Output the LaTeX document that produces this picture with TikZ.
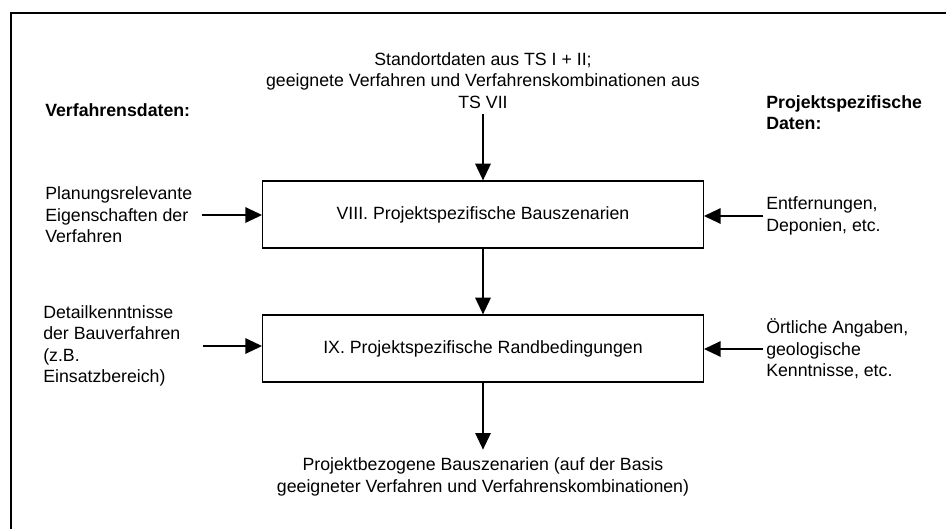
\documentclass[tikz,border=0pt]{standalone}
\usepackage{fontspec}
\setmainfont{Liberation Sans}
\usetikzlibrary{arrows.meta}
\begin{document}
\begin{tikzpicture}[x=0.75pt,y=-0.75pt,
  every node/.style={font=\fontsize{13.3pt}{16.2pt}\selectfont},
  procbox/.style={draw, line width=0.9pt, minimum width=330.5pt, minimum height=50.25pt, inner sep=0pt},
  txt/.style={align=left, inner sep=0pt, anchor=west},
  ctxt/.style={align=center, inner sep=0pt},
  head/.style={align=left, inner sep=0pt, anchor=west, font=\fontsize{13.3pt}{16.2pt}\selectfont\bfseries},
  flow/.style={line width=1.4pt, -{Triangle[length=12.5pt,width=11.5pt]}},
  frame/.style={line width=1pt}
]
\useasboundingbox (0,0) rectangle (946,529);
% outer frame
\coordinate (fb) at (11,529);
\coordinate (fc) at (11,13);
\coordinate (fr) at (946,13);
\draw[frame] (fb) -- (fc) -- (fr);

% boxes
\node[procbox] (b1) at (483,214.5) {VIII.\ Projektspezifische Bauszenarien};
\node[procbox] (b2) at (483,348.5) {IX.\ Projektspezifische Randbedingungen};

% top text
\node[ctxt, inner ysep=4pt] (top) at (483,80.5) {Standortdaten aus TS I + II;\\geeignete Verfahren und Verfahrenskombinationen aus\\TS VII};

% headings
\node[head] (hl) at (45,110) {Verfahrensdaten:};
\node[head] (hr) at (766,112.5) {Projektspezifische\\Daten:};

% side texts
\node[txt] (l1) at (45,215) {Planungsrelevante\\Eigenschaften der\\Verfahren};
\node[txt] (l2) at (43,346) {Detailkenntnisse\\der Bauverfahren\\(z.B.\\Einsatzbereich)};
\node[txt] (r1) at (766,216) {Entfernungen,\\Deponien, etc.};
\node[txt] (r2) at (766,349) {Örtliche Angaben,\\geologische\\Kenntnisse, etc.};

% bottom text
\node[ctxt, inner ysep=6pt] (bot) at (483,477) {Projektbezogene Bauszenarien (auf der Basis\\geeigneter Verfahren und Verfahrenskombinationen)};

% connectors
\coordinate (la1) at (202,215);
\coordinate (la2) at (203,346);
\draw[flow] (top.south) -- (b1.north);
\draw[flow] (b1.south) -- (b2.north);
\draw[flow] (b2.south) -- (bot.north);
\draw[flow] (la1) -- (la1 -| b1.west);
\draw[flow] (la2) -- (la2 -| b2.west);
\draw[flow] ([xshift=-2pt]r1.west) -- (r1.west -| b1.east);
\draw[flow] ([xshift=-2pt]r2.west) -- (r2.west -| b2.east);
\end{tikzpicture}
\end{document}
